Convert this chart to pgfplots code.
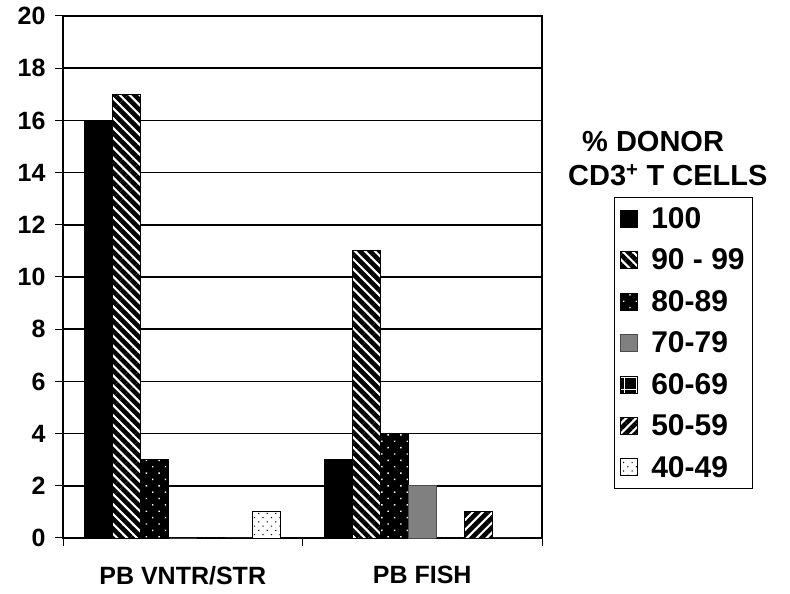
\documentclass[border=0pt]{standalone}
\usepackage{fontspec}
\setmainfont{Liberation Sans}
\usepackage{pgfplots}
\pgfplotsset{compat=1.18}
\usetikzlibrary{patterns.meta}
\definecolor{midgray}{HTML}{808080}
\pgfplotsset{
  sq legend/.style={legend image code/.code={\draw[##1,line width=0.8pt] (0pt,-8.5pt) rectangle (17pt,8.5pt);}},
}
\begin{document}
\begin{tikzpicture}
\path[use as bounding box] (0,0) rectangle (790pt,594pt);
\begin{axis}[
  at={(63pt,56pt)}, anchor=south west,
  scale only axis, width=479pt, height=522pt,
  ybar=0pt, bar width=28pt,
  xmin=-0.5, xmax=1.5, ymin=0, ymax=20,
  ytick={0,2,...,20},
  xtick={-0.5,0.5,1.5},
  x tick label as interval,
  xticklabels={PB VNTR/STR, PB FISH},
  xtick pos=bottom, ytick pos=left,
  tick align=outside, major tick length=8pt,
  tick style={line width=1pt, black},
  axis line style={line width=1.5pt},
  ymajorgrids, grid style={line width=1.5pt, black},
  /pgf/number format/assume math mode=true,
  ticklabel style={font=\fontsize{25}{25}\selectfont\bfseries},
  yticklabel style={xshift=-6pt},
  xticklabel style={yshift=-17pt, font=\fontsize{25}{25}\selectfont\bfseries},
  legend style={at={(1.1503,0.6533)}, anchor=north west, draw=black, line width=1pt,
    font=\fontsize{30}{30}\selectfont\bfseries, row sep=15pt, inner xsep=6pt, inner ysep=8pt,
    nodes={inner sep=2pt},
    /tikz/every odd column/.append style={column sep=11pt}},
  legend cell align=left,
  clip=false,
]
\addplot[fill=black, draw=black, line width=0.8pt, sq legend] coordinates {(0,16) (1,3)};
\addplot[fill=white, draw=black, line width=0.8pt, sq legend,
  postaction={pattern={Lines[angle=-45,distance=7pt,line width=4.6pt]}, pattern color=black}] coordinates {(0,17) (1,11)};
\addplot[fill=black, draw=black, line width=0.8pt, sq legend,
  postaction={pattern={Dots[angle=45,distance=9pt,radius=1pt]}, pattern color=white}] coordinates {(0,3) (1,4)};
\addplot[fill=midgray, draw=black!70, line width=0.8pt, sq legend] coordinates {(0,0) (1,2)};
\addplot[fill=black, draw=black, line width=0.8pt, sq legend,
  postaction={pattern={Hatch[distance=12pt,line width=1pt]}, pattern color=white}] coordinates {(0,0) (1,0)};
\addplot[fill=white, draw=black, line width=0.8pt, sq legend,
  postaction={pattern={Lines[angle=45,distance=7pt,line width=4.6pt]}, pattern color=black}] coordinates {(0,0) (1,1)};
\addplot[fill=white, draw=black, line width=0.8pt, sq legend,
  postaction={pattern={Dots[angle=45,distance=6pt,radius=0.8pt]}, pattern color=black}] coordinates {(0,1) (1,0)};
\legend{100, 90 - 99, 80-89, 70-79, 60-69, 50-59, 40-49}
\node[anchor=base west, font=\fontsize{29}{29}\selectfont\bfseries, inner sep=0pt] at (rel axis cs:1.0835,0.7395) {\% DONOR};
\node[anchor=base west, font=\fontsize{29}{29}\selectfont\bfseries, inner sep=0pt] at (rel axis cs:1.0543,0.676) {CD3\textsuperscript{+} T CELLS};
\end{axis}
\end{tikzpicture}
\end{document}
